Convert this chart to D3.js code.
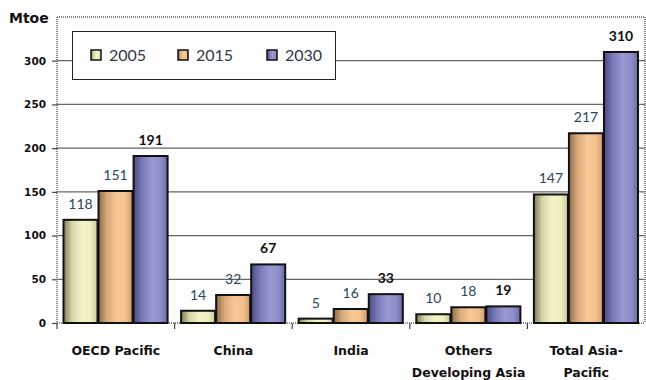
<!DOCTYPE html>
<html>
<head>
<meta charset="utf-8">
<script src="https://cdn.jsdelivr.net/npm/d3@7"></script>
<style>
  html, body { margin: 0; padding: 0; background: #fff; }
  svg { display: block; }
</style>
</head>
<body>
<svg id="chart" width="646" height="380"></svg>
<script>
// Energy demand by region (Mtoe)
const categories = ["OECD Pacific", "China", "India", "Others\nDeveloping Asia", "Total Asia-\nPacific"];
const years = ["2005", "2015", "2030"];
const values2005 = [118, 14, 5, 10, 147];
const values2015 = [151, 32, 16, 18, 217];
const values2030 = [191, 67, 33, 19, 310];
const yTicks = [0, 50, 100, 150, 200, 250, 300];

const series = [values2005, values2015, values2030];

const svg = d3.select("#chart");
const plotLeft = 57, plotRight = 645, plotTop = 17, plotBottom = 323;

const y = d3.scaleLinear().domain([0, 350]).range([plotBottom, plotTop]);
const x0 = d3.scaleBand().domain(categories).range([plotLeft, plotRight]).padding(0);
const x1 = d3.scaleBand().domain(years).range([5.5, x0.bandwidth() - 7]).padding(0);

// gradients for bar fills
const defs = svg.append("defs");
const grads = [
  ["g2005", ["#7c7c58", "#d6d6a8", "#f4f4c8", "#eeeebe", "#c9c99c"]],
  ["g2015", ["#8c6a48", "#d9aa7c", "#f8c894", "#f2c08c", "#c89a70"]],
  ["g2030", ["#4a4a84", "#7878b8", "#9a9ad2", "#8e8ec8", "#6a6aa8"]]
];
grads.forEach(([id, stops]) => {
  const g = defs.append("linearGradient").attr("id", id)
    .attr("x1", "0%").attr("x2", "100%").attr("y1", "0%").attr("y2", "0%");
  const offs = [0, 0.25, 0.55, 0.8, 1];
  stops.forEach((c, i) => g.append("stop").attr("offset", offs[i]).attr("stop-color", c));
});

// horizontal grid lines
svg.append("g").selectAll("line")
  .data(yTicks.filter(d => d > 0))
  .join("line")
  .attr("x1", plotLeft).attr("x2", plotRight)
  .attr("y1", d => y(d)).attr("y2", d => y(d))
  .attr("stroke", "#666").attr("stroke-width", 1.3);

// plot frame (dotted)
const dotted = { stroke: "#8a8a8a", "stroke-width": 2, "stroke-dasharray": "1,1" };
[[plotLeft, plotTop, plotRight, plotTop], [plotRight, plotTop, plotRight, plotBottom],
 [plotLeft, plotTop, plotLeft, plotBottom], [plotLeft, plotBottom, plotRight, plotBottom]]
  .forEach(([a, b, c, d]) => {
    const l = svg.append("line").attr("x1", a).attr("y1", b).attr("x2", c).attr("y2", d);
    Object.entries(dotted).forEach(([k, v]) => l.attr(k, v));
  });

// y axis
const yAxis = d3.axisLeft(y).tickValues(yTicks).tickSize(5).tickPadding(6);
const ya = svg.append("g").attr("transform", `translate(${plotLeft},0)`).call(yAxis);
ya.select(".domain").remove();
ya.selectAll(".tick line").attr("stroke", "#444").attr("stroke-width", 1.2);
ya.selectAll(".tick text")
  .attr("font-family", "'DejaVu Sans', Verdana, sans-serif")
  .attr("font-weight", "bold").attr("font-size", 10.5).attr("fill", "#111");

svg.append("text").attr("x", 9).attr("y", 23)
  .attr("font-family", "'DejaVu Sans', Verdana, sans-serif")
  .attr("font-weight", "bold").attr("font-size", 14).attr("fill", "#111")
  .text("Mtoe");

// category ticks along the bottom
svg.append("g").selectAll("line")
  .data(categories)
  .join("line")
  .attr("x1", d => x0(d)).attr("x2", d => x0(d))
  .attr("y1", plotBottom).attr("y2", plotBottom + 6)
  .attr("stroke", "#444").attr("stroke-width", 1.2);

// bars
const groups = svg.append("g").selectAll("g")
  .data(categories)
  .join("g")
  .attr("transform", d => `translate(${x0(d)},0)`);

const barData = (cat, ci) => years.map((yr, si) => ({ yr, si, v: series[si][ci] }));

groups.each(function (cat, ci) {
  const g = d3.select(this);
  const data = barData(cat, ci);
  g.selectAll("rect").data(data).join("rect")
    .attr("x", d => x1(d.yr) + 1)
    .attr("width", x1.bandwidth() - 1)
    .attr("y", d => y(d.v))
    .attr("height", d => plotBottom - y(d.v))
    .attr("fill", d => `url(#g${d.yr})`)
    .attr("stroke", "#111").attr("stroke-width", 2);
  g.selectAll("text.val").data(data).join("text")
    .attr("class", "val")
    .attr("x", d => x1(d.yr) + x1.bandwidth() / 2 + 0.5)
    .attr("y", d => y(d.v) - 11)
    .attr("text-anchor", "middle")
    .attr("font-family", "Lato, 'Open Sans', sans-serif")
    .attr("font-size", 14)
    .attr("font-weight", d => d.si === 2 ? "bold" : "normal")
    .attr("fill", d => d.si === 2 ? "#111" : "#2e4660")
    .text(d => d.v);
});

// category labels
svg.append("g").selectAll("text")
  .data(categories)
  .join("text")
  .attr("x", d => x0(d) + x0.bandwidth() / 2)
  .attr("y", 355)
  .attr("text-anchor", "middle")
  .attr("font-family", "'DejaVu Sans', Verdana, sans-serif")
  .attr("font-weight", "bold").attr("font-size", 12.5).attr("fill", "#111")
  .each(function (d) {
    const t = d3.select(this);
    d.split("\n").forEach((line, i) => {
      t.append("tspan").attr("x", x0(d) + x0.bandwidth() / 2).attr("dy", i === 0 ? 0 : 22).text(line);
    });
  });

// legend
const legend = svg.append("g");
legend.append("rect").attr("x", 72.5).attr("y", 31.5).attr("width", 263).attr("height", 48)
  .attr("fill", "#fff").attr("stroke", "#222").attr("stroke-width", 1);
const legX = [91, 178, 267];
years.forEach((yr, i) => {
  legend.append("rect").attr("x", legX[i]).attr("y", 50).attr("width", 10).attr("height", 10)
    .attr("fill", `url(#g${yr})`).attr("stroke", "#111").attr("stroke-width", 1.5);
  legend.append("text").attr("x", legX[i] + 18).attr("y", 61)
    .attr("font-family", "Lato, 'Open Sans', sans-serif")
    .attr("font-size", 16).attr("fill", "#2e3a48")
    .text(yr);
});
</script>
</body>
</html>
